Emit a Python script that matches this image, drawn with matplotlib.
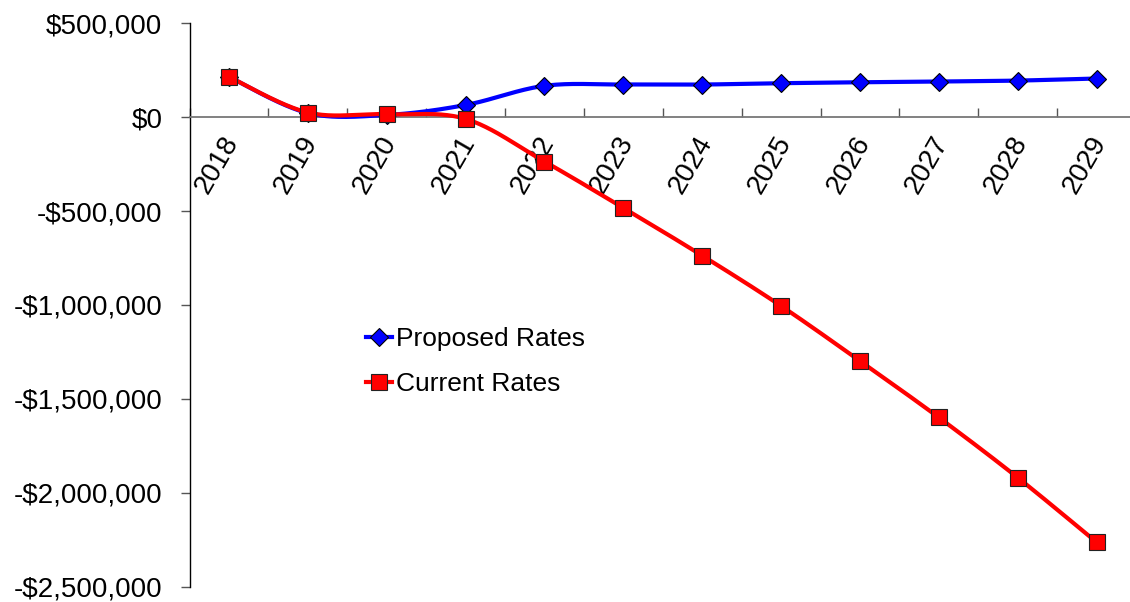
import numpy as np
import matplotlib
matplotlib.use("Agg")
import matplotlib.pyplot as plt
from matplotlib.ticker import FixedLocator, FuncFormatter
from matplotlib.transforms import ScaledTranslation

plt.rcParams['font.family'] = ['Liberation Sans', 'DejaVu Sans']

years = ['2018', '2019', '2020', '2021', '2022', '2023',
         '2024', '2025', '2026', '2027', '2028', '2029']
proposed_rates = [215000, 22000, 12000, 65000, 167000, 174000,
                  174000, 181000, 186000, 190000, 195000, 206000]
current_rates = [215000, 25000, 16000, -9000, -236000, -483000,
                 -737000, -1005000, -1298000, -1599000, -1919000, -2263000]
y_ticks = [500000, 0, -500000, -1000000, -1500000, -2000000, -2500000]


def smooth(xs, ys, steps=40):
    """Catmull-Rom style cubic Bezier through every point."""
    p = np.column_stack([xs, ys]).astype(float)
    n = len(p)
    out = []
    for i in range(n - 1):
        p0 = p[max(i - 1, 0)]
        p1 = p[i]
        p2 = p[i + 1]
        p3 = p[min(i + 2, n - 1)]
        c1 = p1 + (p2 - p0) / 6.0
        c2 = p2 - (p3 - p1) / 6.0
        t = np.linspace(0, 1, steps)[:, None]
        seg = ((1 - t) ** 3) * p1 + 3 * ((1 - t) ** 2) * t * c1 \
            + 3 * (1 - t) * t ** 2 * c2 + t ** 3 * p2
        out.append(seg if i == 0 else seg[1:])
    out = np.vstack(out)
    return out[:, 0], out[:, 1]


W, H = 1130, 602
fig = plt.figure(figsize=(W / 100, H / 100), dpi=100)
left, right = 189.5, 1136.0
top, bottom = 23.3, 586.7
ax = fig.add_axes([left / W, 1 - bottom / H, (right - left) / W, (bottom - top) / H])

x = np.arange(len(years))

sx, sy = smooth(x, proposed_rates)
ax.plot(sx, sy, color='#0000FF', lw=3.0, zorder=3, solid_capstyle='round')
ax.plot(x, proposed_rates, ls='none', marker='D', ms=9.5, mfc='#0000FF',
        mec='black', mew=0.8, zorder=4)

sx, sy = smooth(x, current_rates)
ax.plot(sx, sy, color='#FF0000', lw=3.0, zorder=5, solid_capstyle='round')
ax.plot(x, current_rates, ls='none', marker='s', ms=11, mfc='#FF0000',
        mec='#222222', mew=0.8, zorder=6)

# legend proxies
h1, = ax.plot([], [], color='#0000FF', lw=3.0, marker='D', ms=9.5,
              mfc='#0000FF', mec='black', mew=0.8)
h2, = ax.plot([], [], color='#FF0000', lw=3.0, marker='s', ms=11,
              mfc='#FF0000', mec='#222222', mew=0.8)
fig.legend([h1, h2], ['Proposed Rates', 'Current Rates'],
           loc='center left', bbox_to_anchor=(366 / W, 1 - 361.5 / H),
           frameon=False, fontsize=19, handlelength=1.0, handletextpad=0.15,
           labelspacing=0.78, borderpad=0, borderaxespad=0)

ax.set_xlim(-0.5, len(years) - 0.5)
ax.set_ylim(-2500000, 500000)

for s in ['top', 'right']:
    ax.spines[s].set_visible(False)
ax.spines['bottom'].set_position(('data', 0))
ax.spines['bottom'].set_color('#777777')
ax.spines['bottom'].set_linewidth(1.3)
ax.spines['left'].set_color('black')
ax.spines['left'].set_linewidth(1.0)

ax.yaxis.set_major_locator(FixedLocator(y_ticks))


def money(v, pos):
    v = int(round(v))
    return ('-$' if v < 0 else '$') + f"{abs(v):,}"


ax.yaxis.set_major_formatter(FuncFormatter(money))
ax.tick_params(axis='y', direction='out', length=6.5, width=1.0,
               color='#555555', labelsize=20, pad=13)

ax.set_xticks(x)
ax.set_xticklabels(years)
ax.set_xticks(np.arange(len(years) + 1) - 0.5, minor=True)
ax.tick_params(axis='x', which='major', length=0, labelsize=20, pad=15)
ax.tick_params(axis='x', which='minor', direction='in', length=6.5,
               width=1.0, color='#555555')
offset = ScaledTranslation(4 / 100, 0, fig.dpi_scale_trans)
for lab in ax.get_xticklabels():
    lab.set_rotation(60)
    lab.set_rotation_mode('anchor')
    lab.set_ha('right')
    lab.set_va('center')
    lab.set_transform(lab.get_transform() + offset)

fig.savefig('out.png', dpi=100)
